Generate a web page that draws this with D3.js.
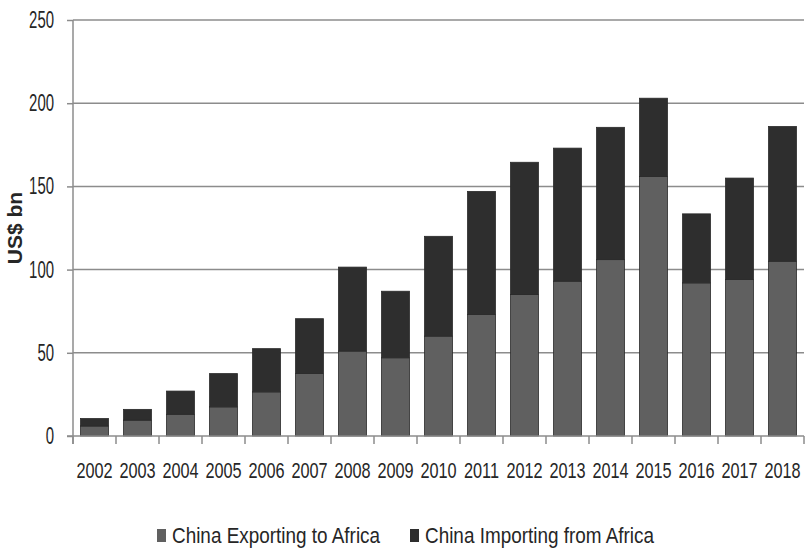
<!DOCTYPE html>
<html><head><meta charset="utf-8">
<script src="https://cdn.jsdelivr.net/npm/d3@7"></script>
<style>body{margin:0;background:#fff}svg{display:block}</style>
</head><body>
<svg id="c" width="807" height="552"></svg>
<script>
const years = ["2002","2003","2004","2005","2006","2007","2008","2009","2010","2011","2012","2013","2014","2015","2016","2017","2018"];
const exporting = [6, 9.5, 13, 17.5, 26.5, 37.5, 51, 47, 60, 73, 85, 93, 106, 156, 92, 94, 105];
const importing = [4.5, 6.5, 14, 20, 26, 33, 50.5, 40, 60, 74, 79.5, 80, 79.5, 47, 41.5, 61, 81];
const yTicks = [0, 50, 100, 150, 200, 250];
const seriesNames = ["China Exporting to Africa", "China Importing from Africa"];
const colors = ["#606060", "#2e2e2e"];

const svg = d3.select("#c");
const x0 = 73, x1 = 804, yTop = 20, yBot = 436;
const x = d3.scaleBand().domain(years).range([x0, x1]).paddingInner(0.35).paddingOuter(0.175);
const y = d3.scaleLinear().domain([0, 250]).range([yBot, yTop]);
const font = "'Liberation Sans', Arial, sans-serif";
const gridCol = "#8c8c8c";

// condensed text helper
function ctext(g, tx, ty, sx, size, anchor, str) {
  return g.append("text")
    .attr("transform", `translate(${tx},${ty}) scale(${sx},1)`)
    .attr("text-anchor", anchor).attr("font-family", font)
    .attr("font-size", size).attr("fill", "#262626").text(str);
}

// gridlines
svg.append("g").selectAll("line").data(yTicks.filter(d => d > 0)).join("line")
  .attr("x1", x0).attr("x2", x1).attr("y1", d => y(d)).attr("y2", d => y(d))
  .attr("stroke", gridCol).attr("stroke-width", 1.5);

// bars
const data = years.map((yr, i) => ({year: yr, exp: exporting[i], imp: importing[i]}));
const stack = d3.stack().keys(["exp", "imp"])(data);
svg.append("g").selectAll("g").data(stack).join("g")
  .attr("fill", (d, i) => colors[i])
  .selectAll("rect").data(d => d).join("rect")
  .attr("x", d => x(d.data.year)).attr("width", x.bandwidth())
  .attr("y", d => y(d[1])).attr("height", d => y(d[0]) - y(d[1]))
  .attr("stroke", "#2a2a2a").attr("stroke-width", 0.8);

// y axis line + ticks
const ya = svg.append("g").attr("transform", `translate(${x0},0)`)
  .call(d3.axisLeft(y).tickValues(yTicks).tickSize(6).tickFormat(""));
ya.select(".domain").attr("stroke", gridCol).attr("stroke-width", 1.5).attr("d", `M0,${yTop}V${yBot + 8}`);
ya.selectAll(".tick line").attr("stroke", gridCol).attr("stroke-width", 1.5);
const yl = svg.append("g");
yTicks.forEach(v => ctext(yl, 54, y(v) + 8, 0.65, 23, "end", String(v)));

// x axis
const xa = svg.append("g").attr("transform", `translate(0,${yBot})`)
  .call(d3.axisBottom(x).tickSize(0).tickFormat(""));
xa.select(".domain").attr("stroke", gridCol).attr("stroke-width", 1.5).attr("d", `M${x0 - 6},0H${x1}`);
svg.append("g").selectAll("line").data(d3.range(years.length + 1)).join("line")
  .attr("x1", i => x0 + i * x.step()).attr("x2", i => x0 + i * x.step())
  .attr("y1", yBot).attr("y2", yBot + 8).attr("stroke", gridCol).attr("stroke-width", 1.5);
const xl = svg.append("g");
years.forEach(yr => ctext(xl, x(yr) + x.bandwidth() / 2, 478, 0.74, 22, "middle", yr));

// y label
svg.append("text").attr("transform", "translate(22,228) rotate(-90)")
  .attr("text-anchor", "middle").attr("font-family", font)
  .attr("font-weight", "bold").attr("font-size", 21).attr("fill", "#262626").text("US$ bn");

// legend
const leg = svg.append("g");
const legX = [157, 410];
seriesNames.forEach((n, i) => {
  leg.append("rect").attr("x", legX[i]).attr("y", 529).attr("width", 9).attr("height", 13).attr("fill", colors[i]);
  ctext(leg, legX[i] + 15, 543, 0.86, 22, "start", n);
});
</script>
</body></html>
